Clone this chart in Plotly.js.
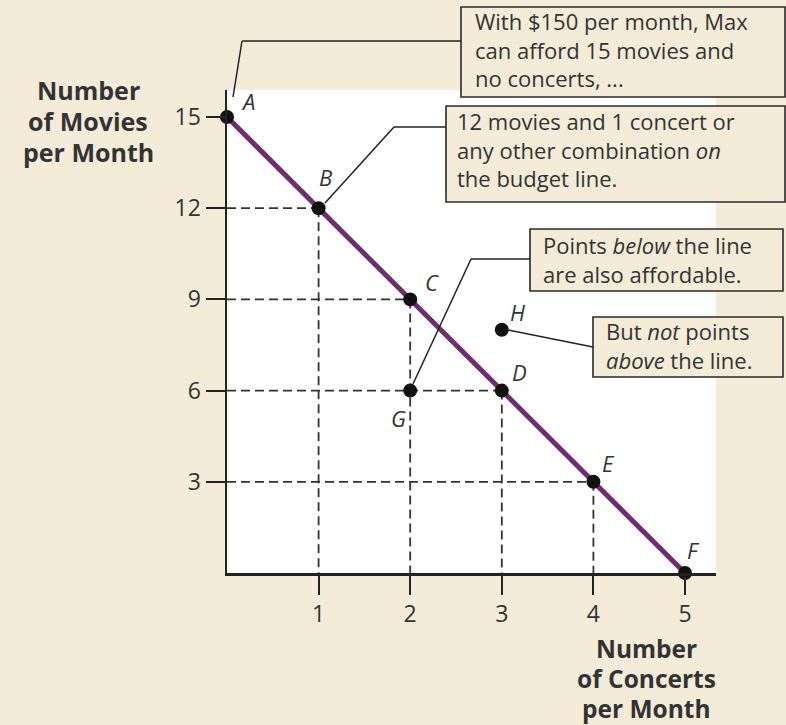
<!DOCTYPE html>
<html>
<head>
<meta charset="utf-8">
<script src="https://cdn.plot.ly/plotly-3.0.1.min.js"></script>
<style>html,body{margin:0;padding:0;background:#f4ecd9;}#chart{width:786px;height:725px;}</style>
</head>
<body>
<div id="chart"></div>
<script>
// ---- data ----
const pointNames = ["A", "B", "C", "D", "E", "F"];
const concerts = [0, 1, 2, 3, 4, 5];
const movies = [15, 12, 9, 6, 3, 0];
const extraNames = ["G", "H"];
const extraConcerts = [2, 3];
const extraMovies = [6, 8];
const xTicks = [1, 2, 3, 4, 5];
const yTicks = [3, 6, 9, 12, 15];
const yTitleLines = ["Number", "of Movies", "per Month"];
const xTitleLines = ["Number", "of Concerts", "per Month"];
const note1 = ["With $150 per month, Max", "can afford 15 movies and", "no concerts, ..."];
const note2 = ["12 movies and 1 concert or", "any other combination <i>on</i>", "the budget line."];
const note3 = ["Points <i>below</i> the line", "are also affordable."];
const note4 = ["But <i>not</i> points", "<i>above</i> the line."];

// ---- layout helpers (pixel -> paper) ----
const L = 227, R = 70, T = 90, B = 152, W = 786, H = 725;
const PW = W - L - R, PH = H - T - B;
const px = x => (x - L) / PW;
const py = y => (H - B - y) / PH;

const BG = "#f4ecd9", INK = "#333333", LINE = "#222222", PURPLE = "#6f2c70";
const FONT = "Open Sans, Noto Sans, DejaVu Sans, sans-serif";

// dashed guides from interior budget points
const gx = [], gy = [];
for (let i = 0; i < concerts.length; i++) {
  if (concerts[i] > 0 && movies[i] > 0) {
    gx.push(0, concerts[i], null, concerts[i], concerts[i], null);
    gy.push(movies[i], movies[i], null, movies[i], 0, null);
  }
}

const traces = [
  {x: gx, y: gy, mode: "lines", line: {color: INK, width: 1.8, dash: "9px,5px"}, hoverinfo: "skip", cliponaxis: false},
  {x: concerts, y: movies, mode: "lines", line: {color: PURPLE, width: 5}, cliponaxis: false},
  {x: concerts.concat(extraConcerts), y: movies.concat(extraMovies), mode: "markers",
   marker: {color: "#111111", size: 14}, cliponaxis: false}
];

const shapes = [];
const annotations = [];

function box(x0, y0, x1, y1) {
  shapes.push({type: "rect", xref: "paper", yref: "paper", x0: px(x0), x1: px(x1), y0: py(y1), y1: py(y0),
    fillcolor: BG, line: {color: "#2a2a2a", width: 1.6}});
}
function seg(x0, y0, x1, y1) {
  shapes.push({type: "line", xref: "paper", yref: "paper", x0: px(x0), y0: py(y0), x1: px(x1), y1: py(y1),
    line: {color: "#222222", width: 1.5}});
}
function block(arr, x, yTop, size) {
  annotations.push({
    xref: "paper", yref: "paper", x: px(x), y: py(yTop), text: arr.join("<br>"),
    showarrow: false, xanchor: "left", yanchor: "top", align: "left", borderpad: 0,
    font: {family: FONT, size: size, color: INK}
  });
}
function lines(arr, x, y0, step, size) {
  arr.forEach((t, i) => annotations.push({
    xref: "paper", yref: "paper", x: px(x), y: py(y0 + i * step), text: "<b>" + t + "</b>",
    showarrow: false, xanchor: "center", yanchor: "middle", borderpad: 0,
    font: {family: FONT, size: size, color: INK}
  }));
}

// callout boxes and leader lines
seg(461, 41, 242, 41); seg(242, 41, 233, 97);
seg(446, 127, 394, 127); seg(394, 127, 325, 203);
seg(530, 259, 471, 259); seg(471, 259, 413, 384);
seg(508, 330, 593, 347);
box(461, 7, 785, 97);
box(446, 106, 785, 202);
box(530, 229, 783, 291);
box(593, 317, 783, 377);

const NS = 22;
block(note1, 474, 5, NS);
block(note2, 456, 105, NS);
block(note3, 542, 229, NS);
block(note4, 605, 315, NS);

lines(yTitleLines, 88, 90, 31, 25);
lines(xTitleLines, 646, 648, 30, 24.5);

// point labels (offsets in pixels)
const offs = {A: [21, 16], B: [7, 31], C: [22, 17], D: [18, 19], E: [15, 19], F: [8, 23], G: [-12, -27], H: [16, 18]};
const allNames = pointNames.concat(extraNames);
const allX = concerts.concat(extraConcerts), allY = movies.concat(extraMovies);
allNames.forEach((n, i) => annotations.push({
  x: allX[i], y: allY[i], xref: "x", yref: "y", text: "<i>" + n + "</i>", showarrow: false,
  xshift: offs[n][0], yshift: offs[n][1], borderpad: 0, font: {family: FONT, size: 22, color: INK}
}));

const axisCommon = {showgrid: false, zeroline: false, showline: true, linecolor: LINE, linewidth: 2.5,
  ticks: "outside", ticklen: 19, tickwidth: 2, tickcolor: LINE,
  tickfont: {family: FONT, size: 23, color: INK}, fixedrange: true};

const layout = {
  width: W, height: H,
  margin: {l: L, r: R, t: T, b: B, pad: 0},
  paper_bgcolor: BG, plot_bgcolor: "#ffffff",
  showlegend: false,
  xaxis: Object.assign({}, axisCommon, {range: [0, PW / 91.6], tickvals: xTicks, ticktext: xTicks.map(String), ticklabelstandoff: 0}),
  yaxis: Object.assign({}, axisCommon, {range: [0, PH / 30.4], tickvals: yTicks, ticktext: yTicks.map(String), ticklabelstandoff: 0}),
  shapes: shapes,
  annotations: annotations
};

Plotly.newPlot("chart", traces, layout, {displayModeBar: false, staticPlot: true});
</script>
</body>
</html>
